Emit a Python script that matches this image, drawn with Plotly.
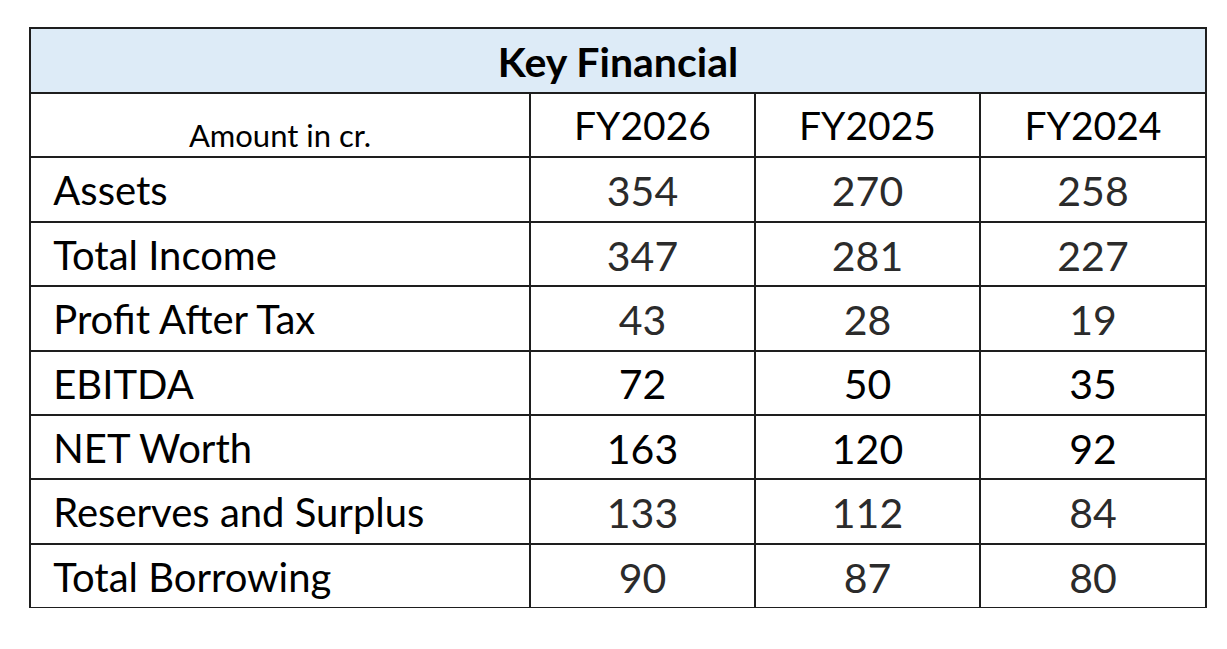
import plotly.graph_objects as go

title = "Key Financial"
unit_label = "Amount in cr."
years = ["FY2026", "FY2025", "FY2024"]
metrics = ["Assets", "Total Income", "Profit After Tax", "EBITDA",
           "NET Worth", "Reserves and Surplus", "Total Borrowing"]
fy2026 = [354, 347, 43, 72, 163, 133, 90]
fy2025 = [270, 281, 28, 50, 120, 112, 87]
fy2024 = [258, 227, 19, 35, 92, 84, 80]

W, H = 1227, 649
OFF = 8  # plotly draws the table a few px inside its domain
left, right = 30, 1206
top, title_h, row_h = 28, 65, 64.4
colw = [500, 225, 225, 226]
FONT = "Lato"
LINE = "#1e1e1e"
CLEAR = "rgba(0,0,0,0)"

n = len(metrics)
body_top = top + title_h
body_bottom = body_top + row_h * (n + 1)


def dom(xa, xb, ya, yb):
    # pixel box -> paper domain, compensating plotly's inner offset
    return dict(x=[(xa - OFF) / W, (xb - OFF) / W],
                y=[1 - (yb - OFF) / H, 1 - (ya - OFF) / H])


# number colours: most rows dark grey, EBITDA / NET Worth in black
num_colors = ["#000000" if m in ("EBITDA", "NET Worth") else "#2b2b2b" for m in metrics]
label_text = ["\u00a0\u2009" + m for m in metrics]

fig = go.Figure()

# --- grid + fills (empty cells) ---
fig.add_trace(go.Table(
    domain=dom(left, right, top, top + title_h),
    columnwidth=[1],
    header=dict(values=[""], fill_color="#DDEBF7", height=title_h,
                line=dict(color=LINE, width=2)),
))
fig.add_trace(go.Table(
    domain=dom(left, right, body_top, body_bottom),
    columnwidth=colw,
    header=dict(values=[""] * 4, fill_color="white", height=row_h,
                line=dict(color=LINE, width=2)),
    cells=dict(values=[[""] * n] * 4, fill_color="white", height=row_h,
               line=dict(color=LINE, width=2)),
))

# --- text layers, nudged down so the text sits in the middle of each row ---
fig.add_trace(go.Table(
    domain=dom(left, right, top + 1, top + title_h + 1),
    columnwidth=[1],
    header=dict(values=["<b>" + title + "</b>"], fill_color=CLEAR,
                height=title_h, line=dict(color=CLEAR, width=0), align="center",
                font=dict(family=FONT, size=41, color="black")),
))
fig.add_trace(go.Table(
    domain=dom(left, left + colw[0], body_top + 23, body_top + row_h + 23),
    columnwidth=[1],
    header=dict(values=[unit_label], fill_color=CLEAR, height=row_h,
                line=dict(color=CLEAR, width=0), align="center",
                font=dict(family=FONT, size=31, color="black")),
))
fig.add_trace(go.Table(
    domain=dom(left, right, body_top + 10, body_bottom + 10),
    columnwidth=colw,
    header=dict(values=[""] + years, fill_color=CLEAR, height=row_h,
                line=dict(color=CLEAR, width=0), align="center",
                font=dict(family=FONT, size=39, color="black")),
    cells=dict(values=[label_text, fy2026, fy2025, fy2024],
               fill_color=CLEAR, height=row_h,
               line=dict(color=CLEAR, width=0),
               align=["left", "center", "center", "center"],
               font=dict(family=FONT, size=[40, 41, 41, 41],
                         color=[["black"] * n, num_colors, num_colors, num_colors])),
))

fig.update_layout(width=W, height=H, margin=dict(l=0, r=0, t=0, b=0),
                  paper_bgcolor="white")

fig.write_html("out.html")
